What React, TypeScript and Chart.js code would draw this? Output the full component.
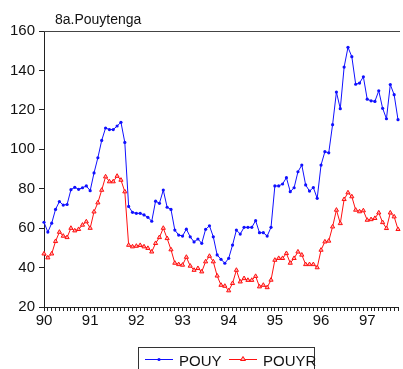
import React, { useEffect, useRef } from "react";
import { Chart, registerables } from "chart.js";

Chart.register(...registerables);

const START_YEAR = 1990;
const YEAR_TICKS = ["90", "91", "92", "93", "94", "95", "96", "97"];
const Y_TICKS = [20, 40, 60, 80, 100, 120, 140, 160];

const POUY: number[] = [
  // 1990
  63, 58, 62.5, 69.5, 73.5, 71.7, 72, 79.5, 80.7, 79.7, 80.5, 81.4,
  // 1991
  79, 88, 95.7, 104.5, 110.8, 110, 110, 111.8, 113.7, 103.5, 71, 68,
  // 1992
  67.5, 67.5, 66.7, 65.5, 63.5, 73.7, 72.6, 79.3, 70.6, 69.5, 59, 56.5,
  // 1993
  56, 59.5, 55.6, 53, 54.5, 52.3, 59.4, 61.2, 55.6, 46.4, 44.2, 42.2,
  // 1994
  44.7, 51.4, 59, 57, 60.4, 60.4, 60.4, 63.8, 57.7, 57.7, 56, 60.4,
  // 1995
  81.4, 81.4, 82.4, 85.6, 78.5, 80.5, 88.6, 92, 81.9, 78.8, 80.6, 75.1,
  // 1996
  92, 98.8, 98.2, 112.5, 129, 120.6, 141.7, 151.7, 147, 133, 133.6, 136.8,
  // 1997
  125.4, 124.6, 124.3, 129.7, 120.8, 115.5, 132.8, 127.7, 115,
];

const POUYR: number[] = [
  // 1990
  47, 45, 47, 53.3, 58, 56, 55.3, 60, 58.7, 59.4, 61.6, 63.3,
  // 1991
  60, 68.3, 72.9, 79.3, 86.1, 83.6, 83.6, 86.4, 84.4, 78.5, 51.4, 50.6,
  // 1992
  50.9, 51.3, 50.6, 49.8, 48, 52.3, 55.3, 60, 54.8, 49.1, 42.3, 41.6,
  // 1993
  41.3, 45.3, 40.8, 38.7, 39.6, 37.9, 43, 45.8, 43, 35.8, 31.1, 30.6,
  // 1994
  28.3, 32, 38.7, 32.8, 34.5, 33.6, 33.6, 35.6, 30.3, 31.1, 29.9, 33.7,
  // 1995
  43.8, 44.7, 44.7, 47.2, 42.3, 44.7, 48, 46.4, 41.6, 41.6, 41.6, 40,
  // 1996
  48.9, 53.1, 53.5, 60.7, 69.2, 62.4, 74.6, 78, 76, 69.2, 68.4, 68.9,
  // 1997
  64.1, 64.4, 65, 67.8, 62.9, 59.9, 67.8, 65.8, 59.4,
];

const MONTHS: string[] = POUY.map((_, i) => {
  const y = START_YEAR + Math.floor(i / 12);
  const m = (i % 12) + 1;
  return `${y}M${m < 10 ? "0" + m : m}`;
});

const FONT = '"Liberation Sans", Arial, sans-serif';

const framePlugin = {
  id: "frame",
  afterDraw(chart: any) {
    const { ctx, chartArea } = chart;
    ctx.save();
    ctx.strokeStyle = "#444";
    ctx.lineWidth = 1;
    ctx.beginPath();
    ctx.moveTo(chartArea.left, Math.round(chartArea.top) + 0.5);
    ctx.lineTo(chartArea.right + 2, Math.round(chartArea.top) + 0.5);
    ctx.stroke();
    ctx.restore();
  },
};

export default function App() {
  const ref = useRef<HTMLCanvasElement | null>(null);

  useEffect(() => {
    document.body.style.margin = "0";
    const canvas = ref.current;
    if (!canvas) return;
    const chart = new Chart(canvas, {
      type: "line",
      data: {
        labels: MONTHS,
        datasets: [
          {
            label: "POUY",
            data: POUY,
            borderColor: "#1010ff",
            backgroundColor: "#1010ff",
            borderWidth: 1,
            pointStyle: "circle",
            pointRadius: 1.6,
            pointBorderWidth: 0,
            tension: 0,
            clip: false as any,
          },
          {
            label: "POUYR",
            data: POUYR,
            borderColor: "#ff1010",
            backgroundColor: "#ffffff",
            pointBackgroundColor: "#ffb0b0",
            pointBorderColor: "#ff1010",
            borderWidth: 1,
            pointStyle: "triangle",
            pointRadius: 2.4,
            pointBorderWidth: 1,
            tension: 0,
            clip: false as any,
          },
        ],
      },
      options: {
        animation: false,
        responsive: false,
        maintainAspectRatio: false,
        layout: { padding: { top: 31, left: 0, right: 0, bottom: 0 } },
        plugins: {
          legend: { display: false },
          title: { display: false },
          tooltip: { enabled: false },
        },
        scales: {
          x: {
            type: "category",
            offset: false,
            grid: {
              display: true,
              drawOnChartArea: false,
              drawTicks: true,
              tickLength: 4,
              color: "#222",
            },
            border: { display: true, color: "#222", width: 1 },
            ticks: {
              autoSkip: false,
              maxRotation: 0,
              minRotation: 0,
              padding: 1,
              color: "#111",
              font: { family: FONT, size: 15 },
              callback: (_v: any, i: number) =>
                i % 12 === 0 ? YEAR_TICKS[i / 12] ?? "" : "",
            },
            afterFit: (s: any) => {
              s.height = 62;
            },
          },
          y: {
            min: Y_TICKS[0],
            max: Y_TICKS[Y_TICKS.length - 1],
            afterBuildTicks: (s: any) => {
              s.ticks = Y_TICKS.map((v) => ({ value: v }));
            },
            grid: {
              display: true,
              drawOnChartArea: false,
              drawTicks: true,
              tickLength: 5,
              color: "#222",
            },
            border: { display: true, color: "#222", width: 1 },
            ticks: {
              padding: 4,
              color: "#111",
              font: { family: FONT, size: 15 },
            },
            afterFit: (s: any) => {
              s.width = 44;
            },
          },
        },
      },
      plugins: [framePlugin],
    });
    return () => chart.destroy();
  }, []);

  return (
    <div
      style={{
        position: "fixed",
        left: 0,
        top: 0,
        width: 403,
        height: 369,
        overflow: "hidden",
        background: "#fff",
        fontFamily: FONT,
      }}
    >
      <canvas
        ref={ref}
        width={403}
        height={369}
        style={{ position: "absolute", left: 0, top: 0, width: 403, height: 369 }}
      />
      <div
        style={{
          position: "absolute",
          left: 55,
          top: 11,
          fontSize: 14,
          lineHeight: "16px",
          color: "#111",
          whiteSpace: "nowrap",
        }}
      >
        8a.Pouytenga
      </div>
      <div
        style={{
          position: "absolute",
          left: 138,
          top: 347,
          width: 177,
          height: 30,
          border: "1px solid #333",
          boxSizing: "border-box",
        }}
      >
        <svg
          width={177}
          height={30}
          style={{ position: "absolute", left: -1, top: -1 }}
        >
          <line x1={7} y1={12.5} x2={35} y2={12.5} stroke="#1010ff" strokeWidth={1} />
          <circle cx={21} cy={12.5} r={1.6} fill="#1010ff" />
          <line x1={91} y1={12.5} x2={119} y2={12.5} stroke="#ff1010" strokeWidth={1} />
          <polygon points="105,9.5 102.5,13.5 107.5,13.5" fill="#ffb0b0" stroke="#ff1010" strokeWidth={1} />
        </svg>
        <span
          style={{
            position: "absolute",
            left: 40,
            top: 4,
            fontSize: 15,
            lineHeight: "17px",
            color: "#111",
          }}
        >
          POUY
        </span>
        <span
          style={{
            position: "absolute",
            left: 124,
            top: 4,
            fontSize: 15,
            lineHeight: "17px",
            color: "#111",
          }}
        >
          POUYR
        </span>
      </div>
    </div>
  );
}
